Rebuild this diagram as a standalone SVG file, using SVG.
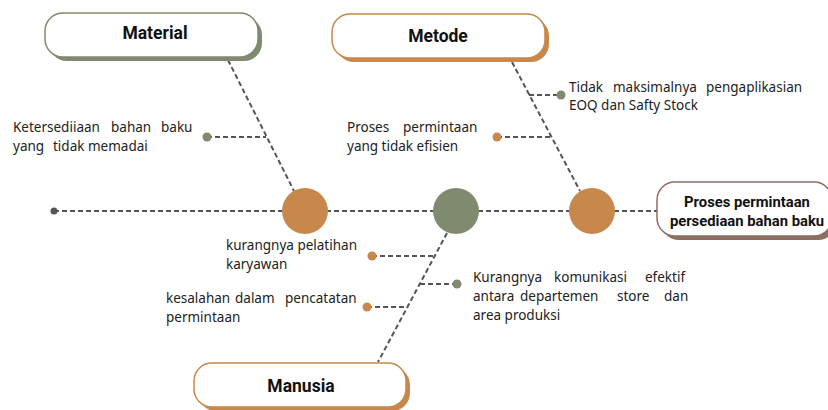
<svg xmlns="http://www.w3.org/2000/svg" width="828" height="410" viewBox="0 0 828 410">
<style>
.c{stroke:#555;stroke-width:2;stroke-dasharray:5 3;fill:none}
.t{font-family:"Noto Sans","Liberation Sans",sans-serif;font-size:13.5px;fill:#222}
.h{font-family:Roboto,"Liberation Sans",sans-serif;font-weight:bold;font-size:17.5px;fill:#111;text-anchor:middle}
.h2{font-family:Roboto,"Liberation Sans",sans-serif;font-weight:bold;font-size:14.8px;fill:#111;text-anchor:middle}
.g{fill:#7f8a6e}.o{fill:#c8884c}
.box{fill:#fff;stroke-width:1.5}
</style>
<rect width="828" height="410" fill="#fff"/>
<g id="connectors">
<line class="c" x1="54" y1="211" x2="657" y2="211"/>
<line class="c" x1="228" y1="60" x2="294" y2="191"/>
<line class="c" x1="512" y1="62" x2="580" y2="191"/>
<line class="c" x1="447" y1="233" x2="378" y2="362"/>
<line class="c" x1="207" y1="137" x2="266" y2="137"/>
<line class="c" x1="529" y1="95" x2="561" y2="95"/>
<line class="c" x1="497" y1="137" x2="551" y2="137"/>
<line class="c" x1="372" y1="256" x2="435" y2="256"/>
<line class="c" x1="367" y1="307" x2="407" y2="307"/>
<line class="c" x1="420" y1="284" x2="457" y2="284"/>
<circle cx="54" cy="211" r="3.5" fill="#555"/>
</g>
<g id="material">
<rect x="49" y="17" width="213" height="44" rx="18" class="g"/>
<rect x="45" y="13" width="213" height="44" rx="18" class="box" stroke="#7f8a6e"/>
<text x="155" y="39" class="h">Material</text>
</g>
<g id="metode">
<rect x="336" y="18" width="213" height="44" rx="18" class="o"/>
<rect x="332" y="14" width="213" height="44" rx="18" class="box" stroke="#c8884c"/>
<text x="438" y="42" class="h">Metode</text>
</g>
<g id="manusia">
<rect x="198" y="367" width="212" height="44" rx="18" class="o"/>
<rect x="194" y="363" width="212" height="44" rx="18" class="box" stroke="#c8884c"/>
<text x="301" y="392" class="h">Manusia</text>
</g>
<g id="effect">
<rect x="661" y="186" width="175" height="54" rx="18" fill="#8d6e63"/>
<rect x="657" y="182" width="175" height="54" rx="18" class="box" stroke="#8d6e63"/>
<text x="747" y="207" class="h2">Proses permintaan</text>
<text x="747" y="226" class="h2">persediaan bahan baku</text>
</g>
<g id="circle-material"><circle cx="305" cy="211" r="23" class="o"/></g>
<g id="circle-manusia"><circle cx="456" cy="211" r="23" class="g"/></g>
<g id="circle-metode"><circle cx="592" cy="211" r="23" class="o"/></g>
<g id="cause-1">
<circle cx="207" cy="137" r="4.5" class="g"/>
<text class="t" y="132"><tspan x="13">Ketersediiaan</tspan><tspan x="111">bahan</tspan><tspan x="161">baku</tspan></text>
<text class="t" y="151"><tspan x="13">yang</tspan><tspan x="53">tidak memadai</tspan></text>
</g>
<g id="cause-2">
<circle cx="561" cy="95" r="4.5" class="g"/>
<text class="t" y="92"><tspan x="569">Tidak</tspan><tspan x="613">maksimalnya</tspan><tspan x="706">pengaplikasian</tspan></text>
<text class="t" x="569" y="110">EOQ dan Safty Stock</text>
</g>
<g id="cause-3">
<circle cx="497" cy="137" r="4.5" class="o"/>
<text class="t" y="132"><tspan x="347">Proses</tspan><tspan x="403">permintaan</tspan></text>
<text class="t" x="347" y="151">yang tidak efisien</text>
</g>
<g id="cause-4">
<circle cx="372" cy="256" r="4.5" class="o"/>
<text class="t" x="226" y="250">kurangnya pelatihan</text>
<text class="t" x="226" y="269">karyawan</text>
</g>
<g id="cause-5">
<circle cx="367" cy="307" r="4.5" class="o"/>
<text class="t" y="303"><tspan x="166">kesalahan</tspan><tspan x="235">dalam</tspan><tspan x="285">pencatatan</tspan></text>
<text class="t" x="166" y="322">permintaan</text>
</g>
<g id="cause-6">
<circle cx="457" cy="284" r="4.5" class="g"/>
<text class="t" y="282"><tspan x="473">Kurangnya</tspan><tspan x="554">komunikasi</tspan><tspan x="645">efektif</tspan></text>
<text class="t" y="301"><tspan x="473">antara</tspan><tspan x="520">departemen</tspan><tspan x="617">store</tspan><tspan x="664">dan</tspan></text>
<text class="t" x="473" y="320">area produksi</text>
</g>
</svg>
